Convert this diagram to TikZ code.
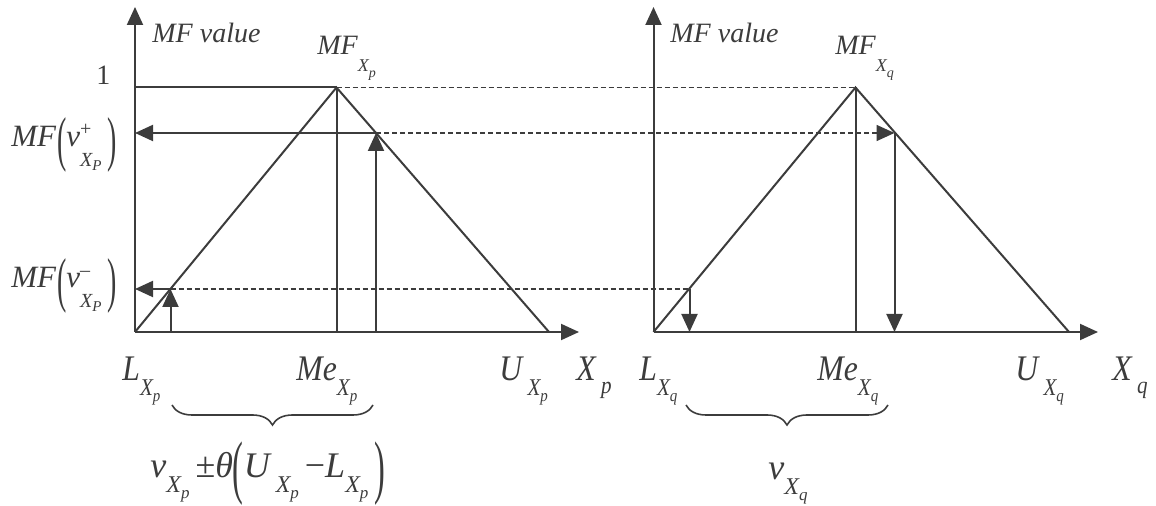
\documentclass[tikz,border=0pt]{standalone}
\usepackage{fontspec}
\setmainfont{Liberation Serif}
\usepackage{graphicx}
\usetikzlibrary{arrows.meta,decorations.pathreplacing}
\definecolor{ink}{HTML}{3C3C3C}
\newcommand{\sq}[1]{\scalebox{0.88}[1]{#1}}
\newcommand{\tsub}[2]{\raisebox{-0.6em}{\fontsize{9}{9}\selectfont\itshape #1\raisebox{-0.3em}{\fontsize{7}{7}\selectfont #2}}}
\newcommand{\bsub}[2]{\raisebox{-0.4em}{\fontsize{12}{12}\selectfont\itshape #1\raisebox{-0.25em}{\fontsize{8.5}{8.5}\selectfont #2}}}
\newcommand{\tparL}{\raisebox{-0.39em}{\scalebox{0.9}[1.95]{\upshape(}}}
\newcommand{\tparR}{\raisebox{-0.39em}{\scalebox{0.9}[1.95]{\upshape)}}}
\newcommand{\bparL}{\raisebox{-0.35em}{\scalebox{0.9}[1.95]{\upshape(}}}
\newcommand{\bparR}{\raisebox{-0.35em}{\scalebox{0.9}[1.95]{\upshape)}}}
\newcommand{\vsupsub}[1]{\textit{v}\rlap{\raisebox{0.38em}{\fontsize{10}{10}\selectfont\upshape #1}}\raisebox{-0.62em}{\fontsize{10}{10}\selectfont\itshape X\raisebox{-0.2em}{\fontsize{7.5}{7.5}\selectfont P}}}
\begin{document}
\begin{tikzpicture}[x=0.5pt,y=-0.5pt,
  ln/.style={draw=ink,line width=1pt},
  dsh/.style={draw=ink,line width=0.8pt,dash pattern=on 2.5pt off 1.5pt},
  tip/.style={-{Triangle[length=9pt,width=8pt]}},
  toplbl/.style={inner sep=0pt,anchor=base west,text=ink,font=\fontsize{14}{16}\selectfont\itshape},
  sidelbl/.style={inner sep=0pt,anchor=base west,text=ink,font=\fontsize{15.5}{17}\selectfont\itshape},
  botlbl/.style={inner sep=0pt,anchor=base west,text=ink,font=\fontsize{18}{20}\selectfont\itshape},
  brc/.style={draw=ink,line width=0.8pt,decorate,decoration={brace,mirror,amplitude=10pt}}]
\path[use as bounding box] (0,0) rectangle (1156,506);
% key points
\coordinate (O1) at (135,332);
\coordinate (Y1) at (135,7);
\coordinate (X1) at (579,332);
\coordinate (P1) at (336.5,87.5);
\coordinate (U1) at (549,332);
\coordinate (A1) at (376,133);
\coordinate (B1) at (170.5,289);
\coordinate (O2) at (653.5,332);
\coordinate (Y2) at (653.5,7);
\coordinate (X2) at (1098,332);
\coordinate (P2) at (855.5,87.5);
\coordinate (U2) at (1069,332);
\coordinate (A2) at (894.5,133);
\coordinate (B2) at (689.5,289);
% axes
\draw[ln,tip] (O1) -- (Y1);
\draw[ln,tip] (O1) -- (X1);
\draw[ln,tip] (O2) -- (Y2);
\draw[ln,tip] (O2) -- (X2);
% triangles
\draw[ln] (O1) -- (P1) -- (U1);
\draw[ln] (O2) -- (P2) -- (U2);
\draw[ln] (P1) -- (P1 |- O1);
\draw[ln] (P2) -- (P2 |- O2);
% level 1
\draw[ln] (Y1 |- P1) -- (P1);
\draw[dsh] (P1) -- (P2);
% v+ level
\draw[ln,tip] (A1) -- (Y1 |- A1);
\draw[ln,tip] (A1 |- O1) -- (A1);
\draw[dsh,tip] (A1) -- (A2);
\draw[ln,tip] (A2) -- (A2 |- O2);
% v- level
\draw[ln,tip] (B1) -- (Y1 |- B1);
\draw[ln,tip] (B1 |- O1) -- (B1);
\draw[dsh] (B1) -- (B2);
\draw[ln,tip] (B2) -- (B2 |- O2);
% braces
\coordinate (br1a) at (172,405);
\coordinate (br1b) at (373,405);
\coordinate (br2a) at (686,405);
\coordinate (br2b) at (888,405);
\draw[brc] (br1a) -- (br1b);
\draw[brc] (br2a) -- (br2b);
% top labels
\node[toplbl] (mfv1) at (152,43) {MF value};
\node[toplbl] (mfv2) at (670,43) {MF value};
\node[toplbl] (mfxp) at (317,55) {MF\tsub{X}{p}};
\node[toplbl] (mfxq) at (835,55) {MF\tsub{X}{q}};
\node[toplbl,font=\fontsize{14}{16}\selectfont] (one) at (96,85) {1};
\node[sidelbl] (mfvp) at (11,147) {MF\hspace{0.5pt}\tparL\vsupsub{+}\hspace{3pt}\tparR};
\node[sidelbl] (mfvm) at (11,288) {MF\hspace{0.5pt}\tparL\vsupsub{\textendash}\hspace{3pt}\tparR};
% bottom labels left
\node[botlbl] (lxp) at (122,381) {\sq{L\bsub{X}{p}}};
\node[botlbl] (mexp) at (296,381) {\sq{Me\bsub{X}{p}}};
\node[botlbl] (uxp) at (499,381) {\sq{U\,\bsub{X}{p}}};
\node[botlbl] (xp) at (576,381) {\sq{X\,\raisebox{-0.35em}{\fontsize{12}{12}\selectfont p}}};
\node[botlbl] (form) at (150,478) {v\bsub{X}{p}\,{\upshape ±}θ\bparL U\,\bsub{X}{p}\,{\upshape −}L\bsub{X}{p}\,\bparR};
% bottom labels right
\node[botlbl] (lxq) at (639,381) {\sq{L\bsub{X}{q}}};
\node[botlbl] (mexq) at (817,381) {\sq{Me\bsub{X}{q}}};
\node[botlbl] (uxq) at (1015,381) {\sq{U\,\bsub{X}{q}}};
\node[botlbl] (xq) at (1112,381) {\sq{X\,\raisebox{-0.35em}{\fontsize{12}{12}\selectfont q}}};
\node[botlbl] (vxq) at (768,480) {v\bsub{X}{q}};
\end{tikzpicture}
\end{document}
